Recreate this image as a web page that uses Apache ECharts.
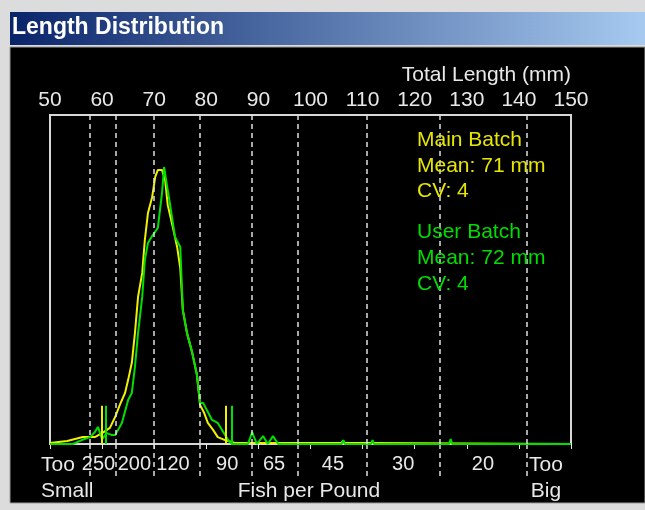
<!DOCTYPE html>
<html>
<head>
<meta charset="utf-8">
<script src="https://cdn.jsdelivr.net/npm/echarts@6/dist/echarts.min.js"></script>
<style>
html,body{margin:0;padding:0;background:#dcdcdc;}
#c{width:645px;height:510px;}
</style>
</head>
<body>
<div id="c"></div>
<script>
// ---- data ----
const titleText = 'Length Distribution';
const topAxisName = 'Total Length (mm)';
// Main Batch (yellow): length (mm) and relative frequency
const mainLen  = [50, 53.3, 56.3, 58.6, 60, 61.5, 62.5, 63.4, 64.4, 65, 65.7, 66.3, 66.9, 67.7, 68.2, 68.8, 69.6, 70.2, 70.7, 71.5, 72.1, 72.6, 73.6, 74.4, 75, 75.5, 76.3, 77.3, 78.2, 78.8, 79.6, 80.3, 81.3, 82.2, 83.6, 85.5, 106, 106.2, 106.6, 110.8, 111, 150];
const mainFreq = [0.3, 0.9, 2.1, 2.1, 3.3, 4.9, 8.2, 11.9, 15.5, 19.5, 24.6, 33.7, 44.7, 52, 62, 70.2, 75, 81.2, 83.3, 83.3, 80.2, 72.6, 65.7, 59.9, 53.5, 40.7, 33.7, 27.7, 21, 11.9, 9.4, 6.4, 4.3, 2.1, 1.2, 0.3, 0.3, 1.0, 0.3, 0.3, 0, 0];
// User Batch (green)
const userLen  = [50, 54.4, 56.1, 57.7, 58.6, 59.2, 60, 60.9, 61.9, 62.5, 63.8, 65, 65.7, 66.3, 66.9, 67.7, 68.2, 68.8, 69.6, 70.7, 71.5, 71.9, 72.5, 73, 74, 75, 75.5, 76.3, 77.3, 78.2, 78.8, 79.4, 79.8, 80.3, 81.1, 82.2, 83, 84.2, 84.9, 88, 88.8, 89.7, 90.9, 91.8, 92.8, 93.8, 106, 106.3, 106.6, 111.6, 111.9, 112.2, 126.6, 126.9, 127.2, 150];
const userFreq = [0, 0, 1.2, 2.1, 3.6, 5.2, 1.5, 3.3, 2.7, 2.7, 6.4, 13.4, 15.5, 23.4, 33.7, 44.7, 55.9, 61.1, 63.2, 65.7, 76.3, 84.2, 78.1, 73.3, 62.9, 59.9, 40.7, 33.7, 27.7, 21, 12.5, 12.5, 11.2, 9.7, 7.3, 6.4, 4.3, 1.2, 0, 0, 3.6, 0, 2.4, 0, 2.4, 0, 0, 1.2, 0, 0, 1.2, 0, 0, 1.5, 0, 0];
// markers (short vertical lines) and their height
const mainMarkers = [60, 83.8];
const userMarkers = [60.7, 84.9];
const markerHeight = 11.6;
// fish-per-pound class boundaries (mm) and labels
const fppBounds = [57.7, 62.7, 70, 78.8, 88.8, 97.6, 110.8, 124.9, 141.6];
const fppLabelPos = [59.3, 66.2, 73.6, 84, 93, 104.3, 117.8, 133.1];
const fppLabels = ['250', '200', '120', '90', '65', '45', '30', '20'];
const bottomTexts = ['Too', 'Small', 'Fish per Pound', 'Too', 'Big'];
const mainLegend = ['Main Batch', 'Mean: 71 mm', 'CV: 4'];
const userLegend = ['User Batch', 'Mean: 72 mm', 'CV: 4'];

// ---- chart ----
const YEL = '#f0f000', GRN = '#00e000', TXT = '#e8e8e8';
const FONT = 'Liberation Sans';
const FS = 21;
const chart = echarts.init(document.getElementById('c'), null, {renderer: 'canvas'});

function pairs(xs, ys) { return xs.map((x, i) => [x, ys[i]]); }
function markerLines(ms) {
  return ms.map(m => [{coord: [m, 0]}, {coord: [m, markerHeight]}]);
}
function txt(x, y, s, color, align) {
  return {type: 'text', x: x, y: y, style: {text: s, fill: color, font: FS + 'px "' + FONT + '"', textAlign: align || 'left', textVerticalAlign: 'middle'}, z: 10};
}

const graphics = [
  {type: 'rect', shape: {x: 10, y: 12, width: 635, height: 33}, style: {fill: new echarts.graphic.LinearGradient(0, 0, 1, 0, [{offset: 0, color: '#0a246a'}, {offset: 1, color: '#a6caf0'}])}, z: 0},
  {type: 'rect', shape: {x: 10, y: 47, width: 635, height: 456}, style: {fill: '#000000', stroke: '#9a9a9a', lineWidth: 1}, z: -1},
  {type: 'text', x: 12, y: 28, style: {text: titleText, fill: '#ffffff', font: 'bold 23px "' + FONT + '"', textVerticalAlign: 'middle'}, z: 10},
  txt(571, 75, topAxisName, TXT, 'right'),
  txt(41, 465, bottomTexts[0], TXT, 'left'),
  txt(41, 491, bottomTexts[1], TXT, 'left'),
  txt(309, 491, bottomTexts[2], TXT, 'center'),
  txt(546, 465, bottomTexts[3], TXT, 'center'),
  txt(546, 491, bottomTexts[4], TXT, 'center')
];
[140, 166, 191].forEach((y, i) => graphics.push(txt(417, y, mainLegend[i], '#e6e600', 'left')));
[232, 258, 284].forEach((y, i) => graphics.push(txt(417, y, userLegend[i], '#00dd00', 'left')));

chart.setOption({
  animation: false,
  backgroundColor: 'transparent',
  graphic: graphics,
  grid: {left: 50, right: 74, top: 115, bottom: 66, show: true, borderColor: '#d8d8d8', borderWidth: 2, backgroundColor: 'transparent'},
  xAxis: [
    {type: 'value', position: 'top', min: 50, max: 150, interval: 10,
     axisLine: {show: false}, splitLine: {show: false},
     axisTick: {show: true, inside: true, length: 5, lineStyle: {color: '#e8e8e8', width: 1}},
     axisLabel: {color: TXT, fontSize: FS, fontFamily: FONT, margin: 4}},
    {type: 'value', position: 'bottom', min: 50, max: 150,
     axisLine: {show: false}, splitLine: {show: false},
     axisTick: {show: true, inside: false, length: 32, customValues: fppBounds, lineStyle: {color: '#e0e0e0', width: 1.5, type: [5, 4]}},
     axisLabel: {show: true, hideOverlap: false, color: TXT, fontSize: 20, fontFamily: FONT, margin: 10, customValues: fppLabelPos,
       formatter: function (v) { let bi = 0, bd = 1e9; fppLabelPos.forEach((p, i) => { const d = Math.abs(p - v); if (d < bd) { bd = d; bi = i; } }); return fppLabels[bi]; }}}
  ],
  yAxis: {type: 'value', min: 0, max: 100, show: false},
  series: [
    {type: 'line', name: 'bounds', xAxisIndex: 0, data: [], silent: true, z: 1,
     markLine: {silent: true, symbol: 'none', label: {show: false}, lineStyle: {color: '#e0e0e0', width: 1.5, type: [5, 4]},
       data: fppBounds.map(b => ({xAxis: b}))}},
    {type: 'line', name: 'Main Batch', xAxisIndex: 0, data: pairs(mainLen, mainFreq), showSymbol: false, z: 3,
     lineStyle: {color: YEL, width: 2}, itemStyle: {color: YEL},
     markLine: {silent: true, symbol: 'none', label: {show: false}, lineStyle: {color: YEL, width: 2, type: 'solid'}, data: markerLines(mainMarkers)}},
    {type: 'line', name: 'User Batch', xAxisIndex: 0, data: pairs(userLen, userFreq), showSymbol: false, z: 4,
     lineStyle: {color: GRN, width: 2}, itemStyle: {color: GRN},
     markLine: {silent: true, symbol: 'none', label: {show: false}, lineStyle: {color: GRN, width: 2, type: 'solid'}, data: markerLines(userMarkers)}}
  ]
});
</script>
</body>
</html>
